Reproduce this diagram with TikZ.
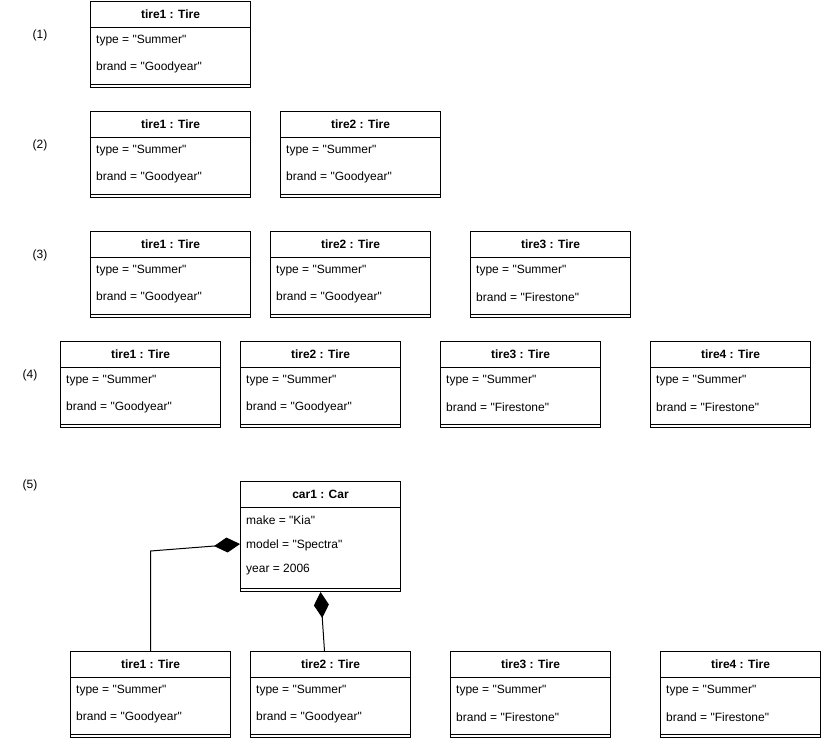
\documentclass[tikz,border=0pt]{standalone}
\usepackage{fontspec}
\setmainfont{Liberation Sans}[Ligatures=TeXOff]
\usetikzlibrary{positioning,arrows.meta}
\tikzset{%
  every node/.style={font=\fontsize{12}{14}\selectfont},
  objbox/.style={draw,line width=1pt,minimum width=160pt,minimum height=86pt,inner sep=0pt,anchor=north west},
  objtitle/.style={font=\fontsize{12}{14}\selectfont\bfseries,inner sep=0pt},
  attr/.style={anchor=west,inner xsep=6pt,inner ysep=0pt},
  numlabel/.style={inner sep=0pt},
  rule/.style={line width=1pt},
  comp/.style={line width=1pt,-{Diamond[length=26pt,width=15pt]}}
}
\newcommand{\tirebox}[5]{%
  \node[objbox] (#1) at (#2,#3) {};
  \draw[rule] ([yshift=-26pt]#1.north west) -- ([yshift=-26pt]#1.north east);
  \draw[rule] ([yshift=4pt]#1.south west) -- ([yshift=4pt]#1.south east);
  \node[objtitle] (#1-title) at ([yshift=-13pt]#1.north) {tire#4 : Tire};
  \node[attr] (#1-type) at ([yshift=-40pt]#1.north west) {type = "Summer"};
  \node[attr] (#1-brand) at ([yshift=-66pt]#1.north west) {brand = "#5"};%
}
\begin{document}
\begin{tikzpicture}[x=1pt,y=-1pt]%
  \useasboundingbox (0,0) rectangle (822,737);
  \node[numlabel] (lbl1) at (40,35) {(1)};
  \node[numlabel] (lbl2) at (40,145) {(2)};
  \node[numlabel] (lbl3) at (40,255) {(3)};
  \node[numlabel] (lbl4) at (30,375) {(4)};
  \node[numlabel] (lbl5) at (30,485) {(5)};
  % (1)
  \tirebox{t1a}{90}{1}{1}{Goodyear}
  % (2)
  \tirebox{t2a}{90}{111}{1}{Goodyear}
  \tirebox{t2b}{280}{111}{2}{Goodyear}
  % (3)
  \tirebox{t3a}{90}{231}{1}{Goodyear}
  \tirebox{t3b}{270}{231}{2}{Goodyear}
  \tirebox{t3c}{470}{231}{3}{Firestone}
  % (4)
  \tirebox{t4a}{60}{341}{1}{Goodyear}
  \tirebox{t4b}{240}{341}{2}{Goodyear}
  \tirebox{t4c}{440}{341}{3}{Firestone}
  \tirebox{t4d}{650}{341}{4}{Firestone}
  % (5)
  \node[objbox,minimum height=110pt] (car) at (240,481) {};
  \draw[rule] ([yshift=-26pt]car.north west) -- ([yshift=-26pt]car.north east);
  \draw[rule] ([yshift=4pt]car.south west) -- ([yshift=4pt]car.south east);
  \node[objtitle] (car-title) at ([yshift=-13pt]car.north) {car1 : Car};
  \node[attr] (car-make) at ([yshift=-39pt]car.north west) {make = "Kia"};
  \node[attr] (car-model) at ([yshift=-64pt]car.north west) {model = "Spectra"};
  \node[attr] (car-year) at ([yshift=-89pt]car.north west) {year = 2006};
  \tirebox{t5a}{70}{651}{1}{Goodyear}
  \tirebox{t5b}{250}{651}{2}{Goodyear}
  \tirebox{t5c}{450}{651}{3}{Firestone}
  \tirebox{t5d}{660}{651}{4}{Firestone}
  \coordinate (bend) at ([yshift=100pt]t5a.north);
  \draw[comp] (t5a.north) -- (bend) -- ([yshift=-63pt]car.north west);
  \draw[comp] ([xshift=-6pt]t5b.north) -- (car.south);
\end{tikzpicture}
\end{document}
